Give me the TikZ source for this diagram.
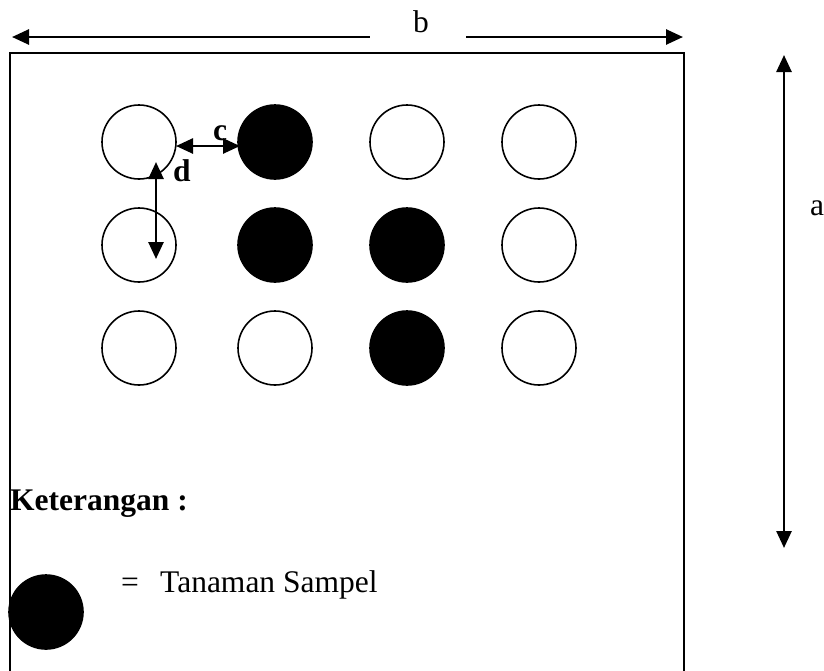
\documentclass[tikz,border=0pt]{standalone}
\usepackage{fontspec}
\setmainfont{Liberation Serif}
\usetikzlibrary{arrows.meta}
\begin{document}
\begin{tikzpicture}[x=1pt,y=-1pt,
  tip/.tip={Triangle[length=17pt,width=15pt]},
  dim/.style={line width=2.6pt,tip-tip},
  plant/.style={circle,draw,line width=1.6pt,minimum size=74pt,inner sep=0pt},
  sample/.style={plant,fill=black},
  lbl/.style={font=\fontsize{31.5}{37}\selectfont,inner sep=0pt},
  blbl/.style={lbl,font=\fontsize{31.5}{37}\selectfont\bfseries}]
\useasboundingbox (0,0) rectangle (824,670);
\begin{scope}
\clip (0,0) rectangle (824,670);
% plot border
\draw[line width=1.6pt] (10,680) -- (10,53) -- (684,53) -- (684,680);
\end{scope}
% width dimension b
\coordinate (bl) at (12,37);
\coordinate (br) at (683,37);
\node[lbl,anchor=base] (b) at (421,32) {b};
\draw[line width=2.6pt,tip-] (bl) -- (370,37);
\draw[line width=2.6pt,-tip] (466,37) -- (br);
% height dimension a
\coordinate (at) at (784,55);
\coordinate (ab) at (784,548);
\draw[dim] (at) -- (ab);
\node[lbl,anchor=base] (a) at (817,215) {a};
% plants
\node[plant]  (p11) at (139,142) {};
\node[sample] (p12) at (275,142) {};
\node[plant]  (p13) at (407,142) {};
\node[plant]  (p14) at (539,142) {};
\node[plant]  (p21) at (139,245) {};
\node[sample] (p22) at (275,245) {};
\node[sample] (p23) at (407,245) {};
\node[plant]  (p24) at (539,245) {};
\node[plant]  (p31) at (139,348) {};
\node[plant]  (p32) at (275,348) {};
\node[sample] (p33) at (407,348) {};
\node[plant]  (p34) at (539,348) {};
% spacing c and d
\coordinate (c1) at (176,146);
\coordinate (c2) at (240,146);
\draw[dim] (c1) -- (c2);
\node[blbl,anchor=base] (c) at (220,140) {c};
\coordinate (d1) at (156,162);
\coordinate (d2) at (156,259);
\draw[dim] (d1) -- (d2);
\node[blbl,anchor=base] (d) at (182,181) {d};
% legend
\node[blbl,anchor=base west] (ket) at (10,510) {Keterangan :};
\node[sample] (leg) at (46,612) {};
\node[lbl,anchor=base] (eq) at (130,592) {=};
\node[lbl,anchor=base west] (ts) at (160,592) {Tanaman Sampel};
\end{tikzpicture}
\end{document}
